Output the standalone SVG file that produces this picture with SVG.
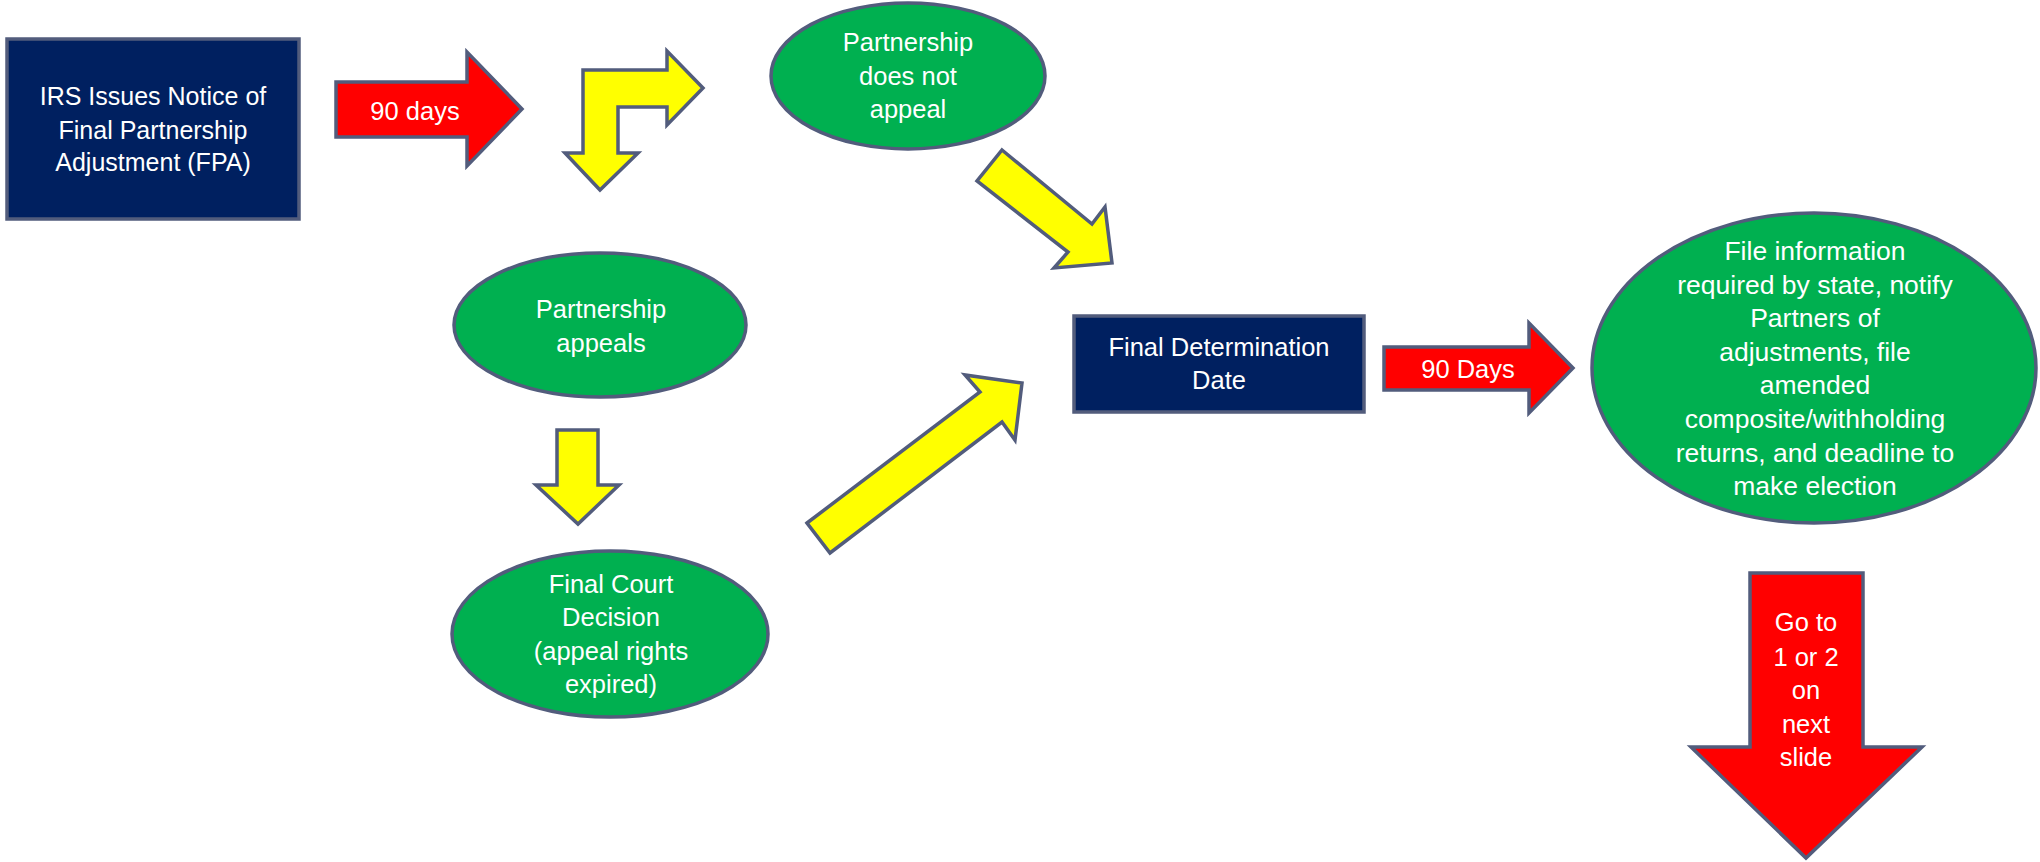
<svg xmlns="http://www.w3.org/2000/svg" width="2040" height="862" viewBox="0 0 2040 862">
<style>
.box{fill:#002060;stroke:#525c7c;stroke-width:3.5}
.oval{fill:#00b050;stroke:#525c7c;stroke-width:3.5}
.red{fill:#ff0000;stroke:#525c7c;stroke-width:3.5;stroke-linejoin:miter}
.yel{fill:#ffff00;stroke:#525c7c;stroke-width:3.5;stroke-linejoin:miter}
text{font-family:"Liberation Sans",Arial,sans-serif;font-size:25.5px;fill:#ffffff;text-anchor:middle}
.t1{font-size:25px}
.t2{font-size:26.5px}
</style>
<rect width="2040" height="862" fill="#ffffff"/>
<g id="connectors">
  <g id="arrow-90days">
    <polygon class="red" points="336,82 467,82 467,52 522,109 467,166 467,137 336,137"/>
    <text x="415" y="120">90 days</text>
  </g>
  <polygon id="arrow-bent" class="yel" points="600,190 565,153 583,153 583,70 667,70 667,51 703,88 667,125 667,107 618,107 618,153 638,153"/>
  <polygon id="arrow-notappeal" class="yel" points="1002,150 1092,224 1105,207 1112,263 1054,268 1068,252 977,181"/>
  <polygon id="arrow-appeals" class="yel" points="557,430 598,430 598,485 619,485 578,524 536,485 557,485"/>
  <polygon id="arrow-court" class="yel" points="807,523 980,392 965,375 1022,383 1015,440 1002,422 830,553"/>
  <g id="arrow-90days2">
    <polygon class="red" points="1384,347 1529,347 1529,323 1573,368 1529,413 1529,390 1384,390"/>
    <text x="1468" y="378">90 Days</text>
  </g>
  <g id="arrow-next">
    <polygon class="red" points="1750,573 1863,573 1863,747 1922,747 1806,858 1691,747 1750,747"/>
    <text x="1806" y="631">Go to</text>
    <text x="1806" y="666">1 or 2</text>
    <text x="1806" y="699">on</text>
    <text x="1806" y="733">next</text>
    <text x="1806" y="766">slide</text>
  </g>
</g>
<g id="node-fpa">
  <rect class="box" x="7" y="39" width="292" height="180"/>
  <text class="t1" x="153" y="105">IRS Issues Notice of</text>
  <text class="t1" x="153" y="139">Final Partnership</text>
  <text class="t1" x="153" y="171">Adjustment (FPA)</text>
</g>
<g id="node-notappeal">
  <ellipse class="oval" cx="908" cy="76" rx="137" ry="73"/>
  <text x="908" y="51">Partnership</text>
  <text x="908" y="85">does not</text>
  <text x="908" y="118">appeal</text>
</g>
<g id="node-appeals">
  <ellipse class="oval" cx="600" cy="325" rx="146" ry="72"/>
  <text x="601" y="318">Partnership</text>
  <text x="601" y="352">appeals</text>
</g>
<g id="node-court">
  <ellipse class="oval" cx="610" cy="634" rx="158" ry="83"/>
  <text x="611" y="593">Final Court</text>
  <text x="611" y="626">Decision</text>
  <text x="611" y="660">(appeal rights</text>
  <text x="611" y="693">expired)</text>
</g>
<g id="node-fdd">
  <rect class="box" x="1074" y="316" width="290" height="96"/>
  <text x="1219" y="356">Final Determination</text>
  <text x="1219" y="389">Date</text>
</g>
<g id="node-file">
  <ellipse class="oval" cx="1814" cy="368" rx="222" ry="155"/>
  <text class="t2" x="1815" y="260">File information</text>
  <text class="t2" x="1815" y="294">required by state, notify</text>
  <text class="t2" x="1815" y="327">Partners of</text>
  <text class="t2" x="1815" y="361">adjustments, file</text>
  <text class="t2" x="1815" y="394">amended</text>
  <text class="t2" x="1815" y="428">composite/withholding</text>
  <text class="t2" x="1815" y="462">returns, and deadline to</text>
  <text class="t2" x="1815" y="495">make election</text>
</g>
</svg>
